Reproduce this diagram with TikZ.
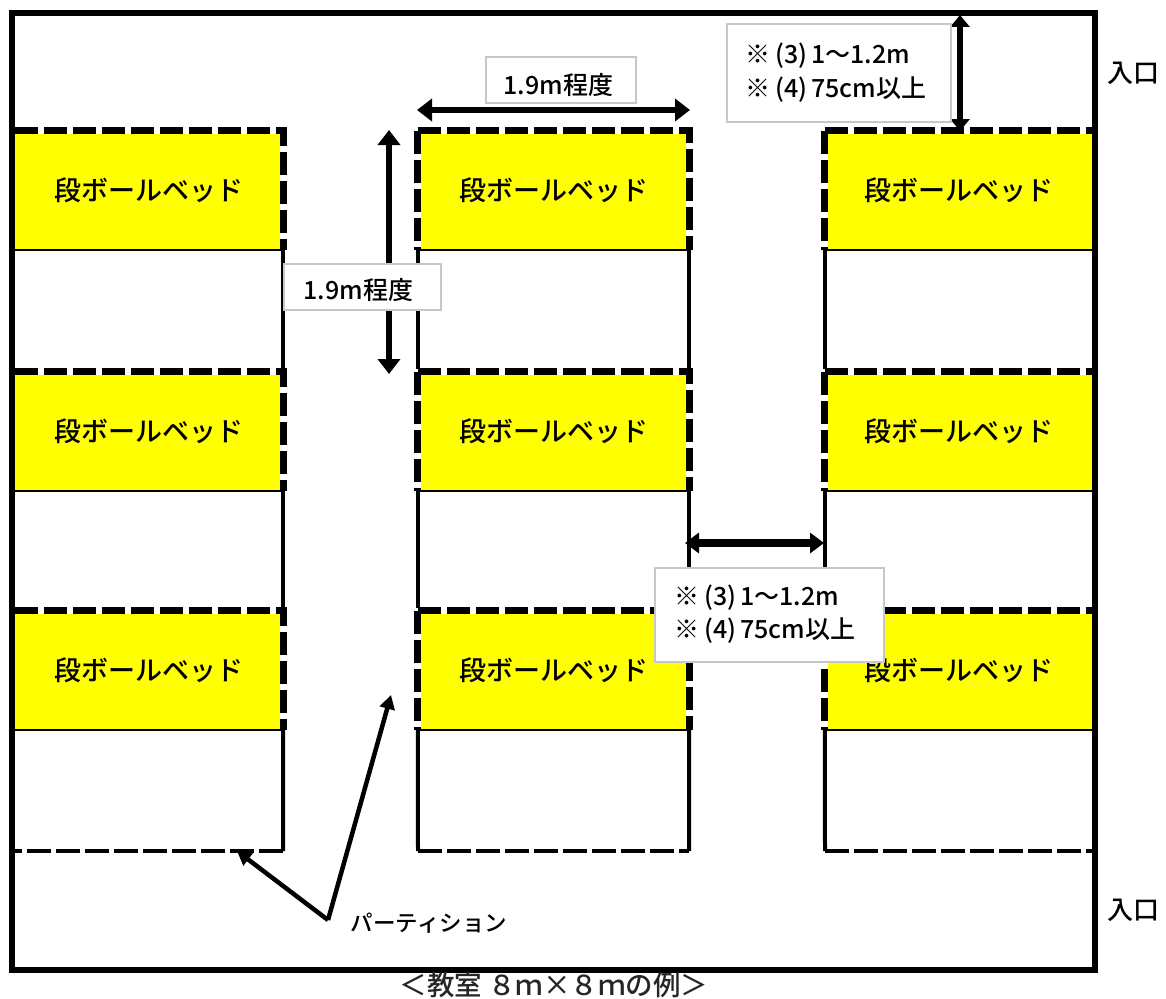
\documentclass[tikz,border=0pt]{standalone}
\usepackage{fontspec}
\setmainfont{Noto Sans CJK JP Medium}
\usetikzlibrary{arrows.meta}
\definecolor{bedyellow}{RGB}{255,255,0}
\newcommand{\calloutlines}{※\hspace{5pt}(3)\hspace{4pt}1〜1.2m\\※\hspace{5pt}(4)\hspace{4pt}75cm以上}
\tikzset{
  bed/.style={fill=bedyellow,draw=none,minimum height=119pt,inner sep=0pt,text=black,font=\fontsize{27}{30}\selectfont},
  bedL/.style={bed,minimum width=268pt},
  bedM/.style={bed,minimum width=271pt},
  bedR/.style={bed,minimum width=267pt},
  dashunder/.style={draw=white,line width=6.5pt},
  dashthick/.style={draw=black,line width=7pt,dash pattern=on 23pt off 6pt},
  dashthin/.style={draw=black,line width=4.5pt,dash pattern=on 24pt off 5pt},
  solidside/.style={draw=black,line width=4pt},
  bedline/.style={draw=black,line width=2pt},
  callout/.style={draw=black!22,line width=2pt,fill=white,inner sep=0pt,text=black},
  dimA/.style={line width=5.5pt,{Triangle[width=22pt,length=15pt]}-{Triangle[width=22pt,length=15pt]}},
  ptr/.style={line width=4.5pt,-{Triangle[width=15pt,length=14pt]}},
  lbl/.style={inner sep=0pt,text=black}
}
\begin{document}
\begin{tikzpicture}[x=1pt,y=-1pt]
\useasboundingbox (0,0) rectangle (1166,998);
\fill[white] (0,0) rectangle (1166,998);

% yellow beds
\node[bedL] (a1) at (149,190.5) {段ボールベッド};
\node[bedL] (a2) at (149,431.5) {段ボールベッド};
\node[bedL] (a3) at (149,670.5) {段ボールベッド};
\node[bedM] (b1) at (553.5,190.5) {段ボールベッド};
\node[bedM] (b2) at (553.5,431.5) {段ボールベッド};
\node[bedM] (b3) at (553.5,670.5) {段ボールベッド};
\node[bedR] (c1) at (958.5,190.5) {段ボールベッド};
\node[bedR] (c2) at (958.5,431.5) {段ボールベッド};
\node[bedR] (c3) at (958.5,670.5) {段ボールベッド};

% bottom corners of the partitions
\coordinate (aend) at (283,851);
\coordinate (astart) at (15,851);
\coordinate (bendl) at (418,851);
\coordinate (bendr) at (689,851);
\coordinate (cendl) at (825,851);
\coordinate (cendr) at (1092,851);

% thin bed lines
\foreach \n in {a1,a2,a3,b1,b2,b3,c1,c2,c3}
  \draw[bedline] (\n.south west) -- (\n.south east);

% solid partition sides
\draw[solidside] (a1.south east) -- (a2.north east);
\draw[solidside] (a2.south east) -- (a3.north east);
\draw[solidside] (a3.south east) -- (aend);
\draw[solidside] (b1.south west) -- (b2.north west);
\draw[solidside] (b2.south west) -- (b3.north west);
\draw[solidside] (b3.south west) -- (bendl);
\draw[solidside] (b1.south east) -- (b2.north east);
\draw[solidside] (b2.south east) -- (b3.north east);
\draw[solidside] (b3.south east) -- (bendr);
\draw[solidside] (c1.south west) -- (c2.north west);
\draw[solidside] (c2.south west) -- (c3.north west);
\draw[solidside] (c3.south west) -- (cendl);

% dashed partition around beds, white in the gaps
\foreach \n in {a1,a2,a3}{
  \draw[dashunder] (\n.north west) -- (\n.north east) -- (\n.south east);
  \draw[dashthick] (\n.north west) -- (\n.north east) -- (\n.south east);
}
\foreach \n in {b1,b2,b3}{
  \draw[dashunder] (\n.south west) -- (\n.north west) -- (\n.north east) -- (\n.south east);
  \draw[dashthick] (\n.north west) -- (\n.north east) -- (\n.south east);
  \draw[dashthick] (\n.north west) -- (\n.south west);
}
\foreach \n in {c1,c2,c3}{
  \draw[dashunder] (\n.south west) -- (\n.north west) -- (\n.north east);
  \draw[dashthick] (\n.north west) -- (\n.north east);
  \draw[dashthick] (\n.north west) -- (\n.south west);
}

% dashed bottoms
\draw[dashthin] (aend) -- (astart);
\draw[dashthin] (bendl) -- (bendr);
\draw[dashthin] (cendl) -- (cendr);

% outer wall
\node[draw=black,line width=6pt,minimum width=1083pt,minimum height=957pt,inner sep=0pt] (room) at (553.5,491.5) {};

% dimension arrows
\coordinate (h1) at (417,110);
\coordinate (h2) at (690,110);
\draw[dimA] (h1) -- (h2);
\coordinate (v1) at (389,130);
\coordinate (v2) at (389,374);
\draw[dimA] (v1) -- (v2);
\coordinate (t1) at (960,15);
\coordinate (t2) at (960,131);
\draw[line width=5.5pt,{Triangle[width=19pt,length=12pt]}-{Triangle[width=19pt,length=12pt]}] (t1) -- (t2);
\coordinate (g1) at (685,543);
\coordinate (g2) at (824,543);
\draw[line width=7.5pt,{Triangle[width=20pt,length=14pt]}-{Triangle[width=20pt,length=14pt]}] (g1) -- (g2);

% callouts
\node[callout,minimum width=150pt,minimum height=46pt] (n1) at (561,80) {};
\node[lbl,font=\fontsize{25}{26}\selectfont] (n1t) at (558.5,85) {1.9m程度};
\node[callout,minimum width=157pt,minimum height=46pt] (n2) at (362.5,287) {};
\node[lbl,font=\fontsize{25}{26}\selectfont] (n2t) at (358.5,290) {1.9m程度};
\node[callout,minimum width=224pt,minimum height=98pt] (n3) at (839,73) {};
\node[lbl,anchor=west,align=left,font=\fontsize{25}{33.5}\selectfont] (n3t) at (745,72.5) {\calloutlines};
\node[callout,minimum width=229pt,minimum height=94pt] (n4) at (769.5,615) {};
\node[lbl,anchor=west,align=left,font=\fontsize{25}{33.5}\selectfont] (n4t) at (674,614) {\calloutlines};

% partition pointers
\node[lbl,font=\fontsize{22.5}{26}\selectfont] (pt) at (429,923) {パーティション};
\coordinate (apex) at (328,920);
\coordinate (pa) at (237,851);
\coordinate (pb) at (391,695);
\draw[ptr] (apex) -- (pa);
\draw[ptr] (apex) -- (pb);

% entrances and caption
\node[lbl,font=\fontsize{26}{30}\selectfont] (e1) at (1133,73) {入口};
\node[lbl,font=\fontsize{26}{30}\selectfont] (e2) at (1133,910) {入口};
\node[lbl,font=\fontsize{27.5}{28}\selectfont,text=black!85] (cap) at (554,985) {＜教室 ８ｍ×８ｍの例＞};
\end{tikzpicture}
\end{document}
